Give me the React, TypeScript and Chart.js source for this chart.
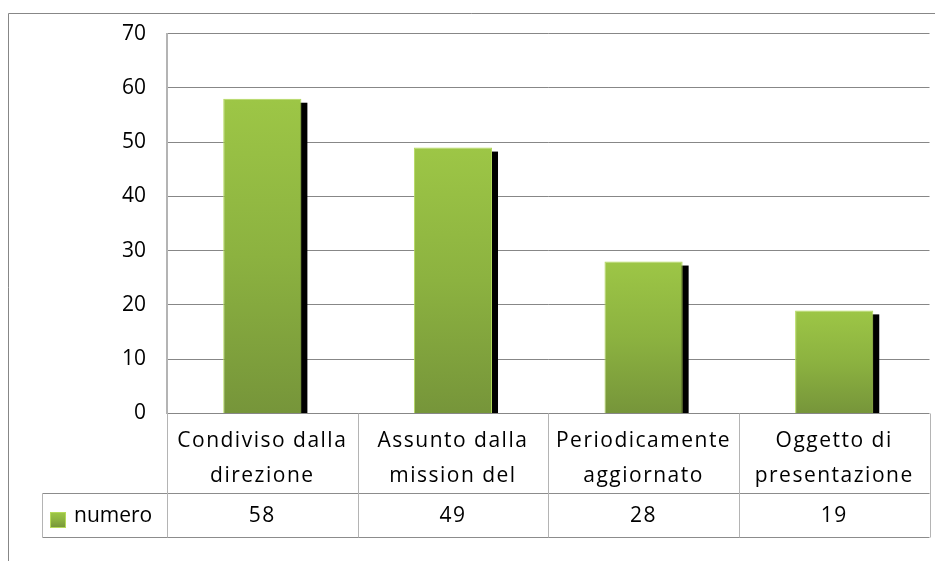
import { useEffect, useRef } from 'react';
import { Chart, registerables } from 'chart.js';

Chart.register(...registerables);

const categories: string[][] = [
  ['Condiviso dalla', 'direzione'],
  ['Assunto dalla', 'mission del'],
  ['Periodicamente', 'aggiornato'],
  ['Oggetto di', 'presentazione'],
];
const seriesName = 'numero';
const values: number[] = [58, 49, 28, 19];
const yMax = 70;
const yStep = 10;

const FONT = '"Open Sans", "Noto Sans", sans-serif';

function barGradient(ctx: CanvasRenderingContext2D, top: number, bottom: number) {
  const g = ctx.createLinearGradient(0, top, 0, bottom);
  g.addColorStop(0, '#9dc646');
  g.addColorStop(0.5, '#8cb240');
  g.addColorStop(1, '#76953a');
  return g;
}

const framePlugin = {
  id: 'frame',
  beforeDraw(chart: any) {
    const ctx = chart.ctx;
    ctx.save();
    ctx.fillStyle = '#ffffff';
    ctx.fillRect(0, 0, chart.width, chart.height);
    ctx.strokeStyle = '#878787';
    ctx.lineWidth = 1;
    ctx.beginPath();
    ctx.moveTo(8.5, chart.height);
    ctx.lineTo(8.5, 13.5);
    ctx.lineTo(chart.width, 13.5);
    ctx.stroke();
    ctx.restore();
  },
};

const shadowPlugin = {
  id: 'barShadow',
  beforeDatasetsDraw(chart: any) {
    const meta = chart.getDatasetMeta(0);
    const ctx = chart.ctx;
    ctx.save();
    ctx.fillStyle = '#000000';
    meta.data.forEach((el: any) => {
      const { x, y, base, width } = el.getProps(['x', 'y', 'base', 'width'], true);
      ctx.fillRect(x - width / 2 + 6, y + 4, width, base - y - 4);
    });
    ctx.restore();
  },
};

const tablePlugin = {
  id: 'dataTable',
  afterDraw(chart: any) {
    const ctx = chart.ctx;
    const area = chart.chartArea;
    const n = categories.length;
    const colW = (area.right - area.left) / n;
    const top = area.bottom;
    const mid = 493.5;
    const bottom = 537.5;
    const legendLeft = 42.5;
    ctx.save();
    ctx.strokeStyle = '#8c8c8c';
    ctx.lineWidth = 1;
    ctx.beginPath();
    ctx.moveTo(legendLeft, mid);
    ctx.lineTo(area.right, mid);
    ctx.moveTo(legendLeft, bottom);
    ctx.lineTo(area.right, bottom);
    ctx.stroke();
    ctx.strokeStyle = '#b4b4b4';
    ctx.beginPath();
    for (let i = 0; i <= n; i++) {
      const x = Math.round(area.left + i * colW) + 0.5;
      ctx.moveTo(x, top);
      ctx.lineTo(x, bottom);
    }
    ctx.moveTo(legendLeft, mid);
    ctx.lineTo(legendLeft, bottom);
    ctx.stroke();

    ctx.fillStyle = '#000000';
    ctx.textBaseline = 'middle';
    ctx.textAlign = 'center';
    ctx.font = `21px ${FONT}`;
    (ctx as any).letterSpacing = '1.5px';
    categories.forEach((lines, i) => {
      const cx = area.left + (i + 0.5) * colW;
      ctx.fillText(lines[0], cx, 441);
      ctx.fillText(lines[1], cx, 476);
      ctx.fillText(String(values[i]), cx, 516);
    });
    (ctx as any).letterSpacing = '0px';

    const kx = 50.5;
    const ky = 512.5;
    ctx.fillStyle = barGradient(ctx, ky, ky + 15);
    ctx.fillRect(kx, ky, 15, 15);
    ctx.strokeStyle = '#b5da5a';
    ctx.strokeRect(kx, ky, 15, 15);
    ctx.fillStyle = '#000000';
    ctx.textAlign = 'left';
    ctx.fillText(seriesName, 74, 516);
    ctx.restore();
  },
};

export default function App() {
  const ref = useRef<HTMLCanvasElement | null>(null);
  useEffect(() => {
    if (!ref.current) return;
    const chart = new Chart(ref.current, {
      type: 'bar',
      data: {
        labels: categories.map((c) => c.join(' ')),
        datasets: [
          {
            label: seriesName,
            data: values,
            backgroundColor: (context: any) => {
              const ch = context.chart;
              const yScale = ch.scales && ch.scales.y;
              if (!ch.chartArea || !yScale || context.type !== 'data') return '#8fb342';
              const top = yScale.getPixelForValue(context.raw);
              const bottom = yScale.getPixelForValue(0);
              return barGradient(ch.ctx, top, bottom);
            },
            borderColor: '#b3d95a',
            borderWidth: 1,
            borderSkipped: 'bottom',
            categoryPercentage: 1,
            barPercentage: 0.41,
          },
        ],
      },
      options: {
        responsive: false,
        animation: false,
        devicePixelRatio: 1,
        layout: { padding: { left: 0, top: 31.5, right: 5.5, bottom: 147.5 } },
        plugins: {
          legend: { display: false },
          tooltip: { enabled: false },
        },
        scales: {
          x: { display: false },
          y: {
            min: 0,
            max: yMax,
            ticks: {
              stepSize: yStep,
              padding: 21,
              color: '#000000',
              font: { family: FONT, size: 21 },
            },
            grid: { color: '#878787', lineWidth: 1, drawTicks: false },
            border: { color: '#b4b4b4', width: 2 },
            afterFit: (scale: any) => {
              scale.width = 167;
            },
          },
        },
      },
      plugins: [framePlugin, shadowPlugin, tablePlugin],
    });
    return () => chart.destroy();
  }, []);
  return (
    <div style={{ position: 'fixed', left: 0, top: 0, width: 935, height: 561, background: '#fff' }}>
      <canvas ref={ref} width={935} height={561} style={{ width: 935, height: 561, display: 'block' }} />
    </div>
  );
}
